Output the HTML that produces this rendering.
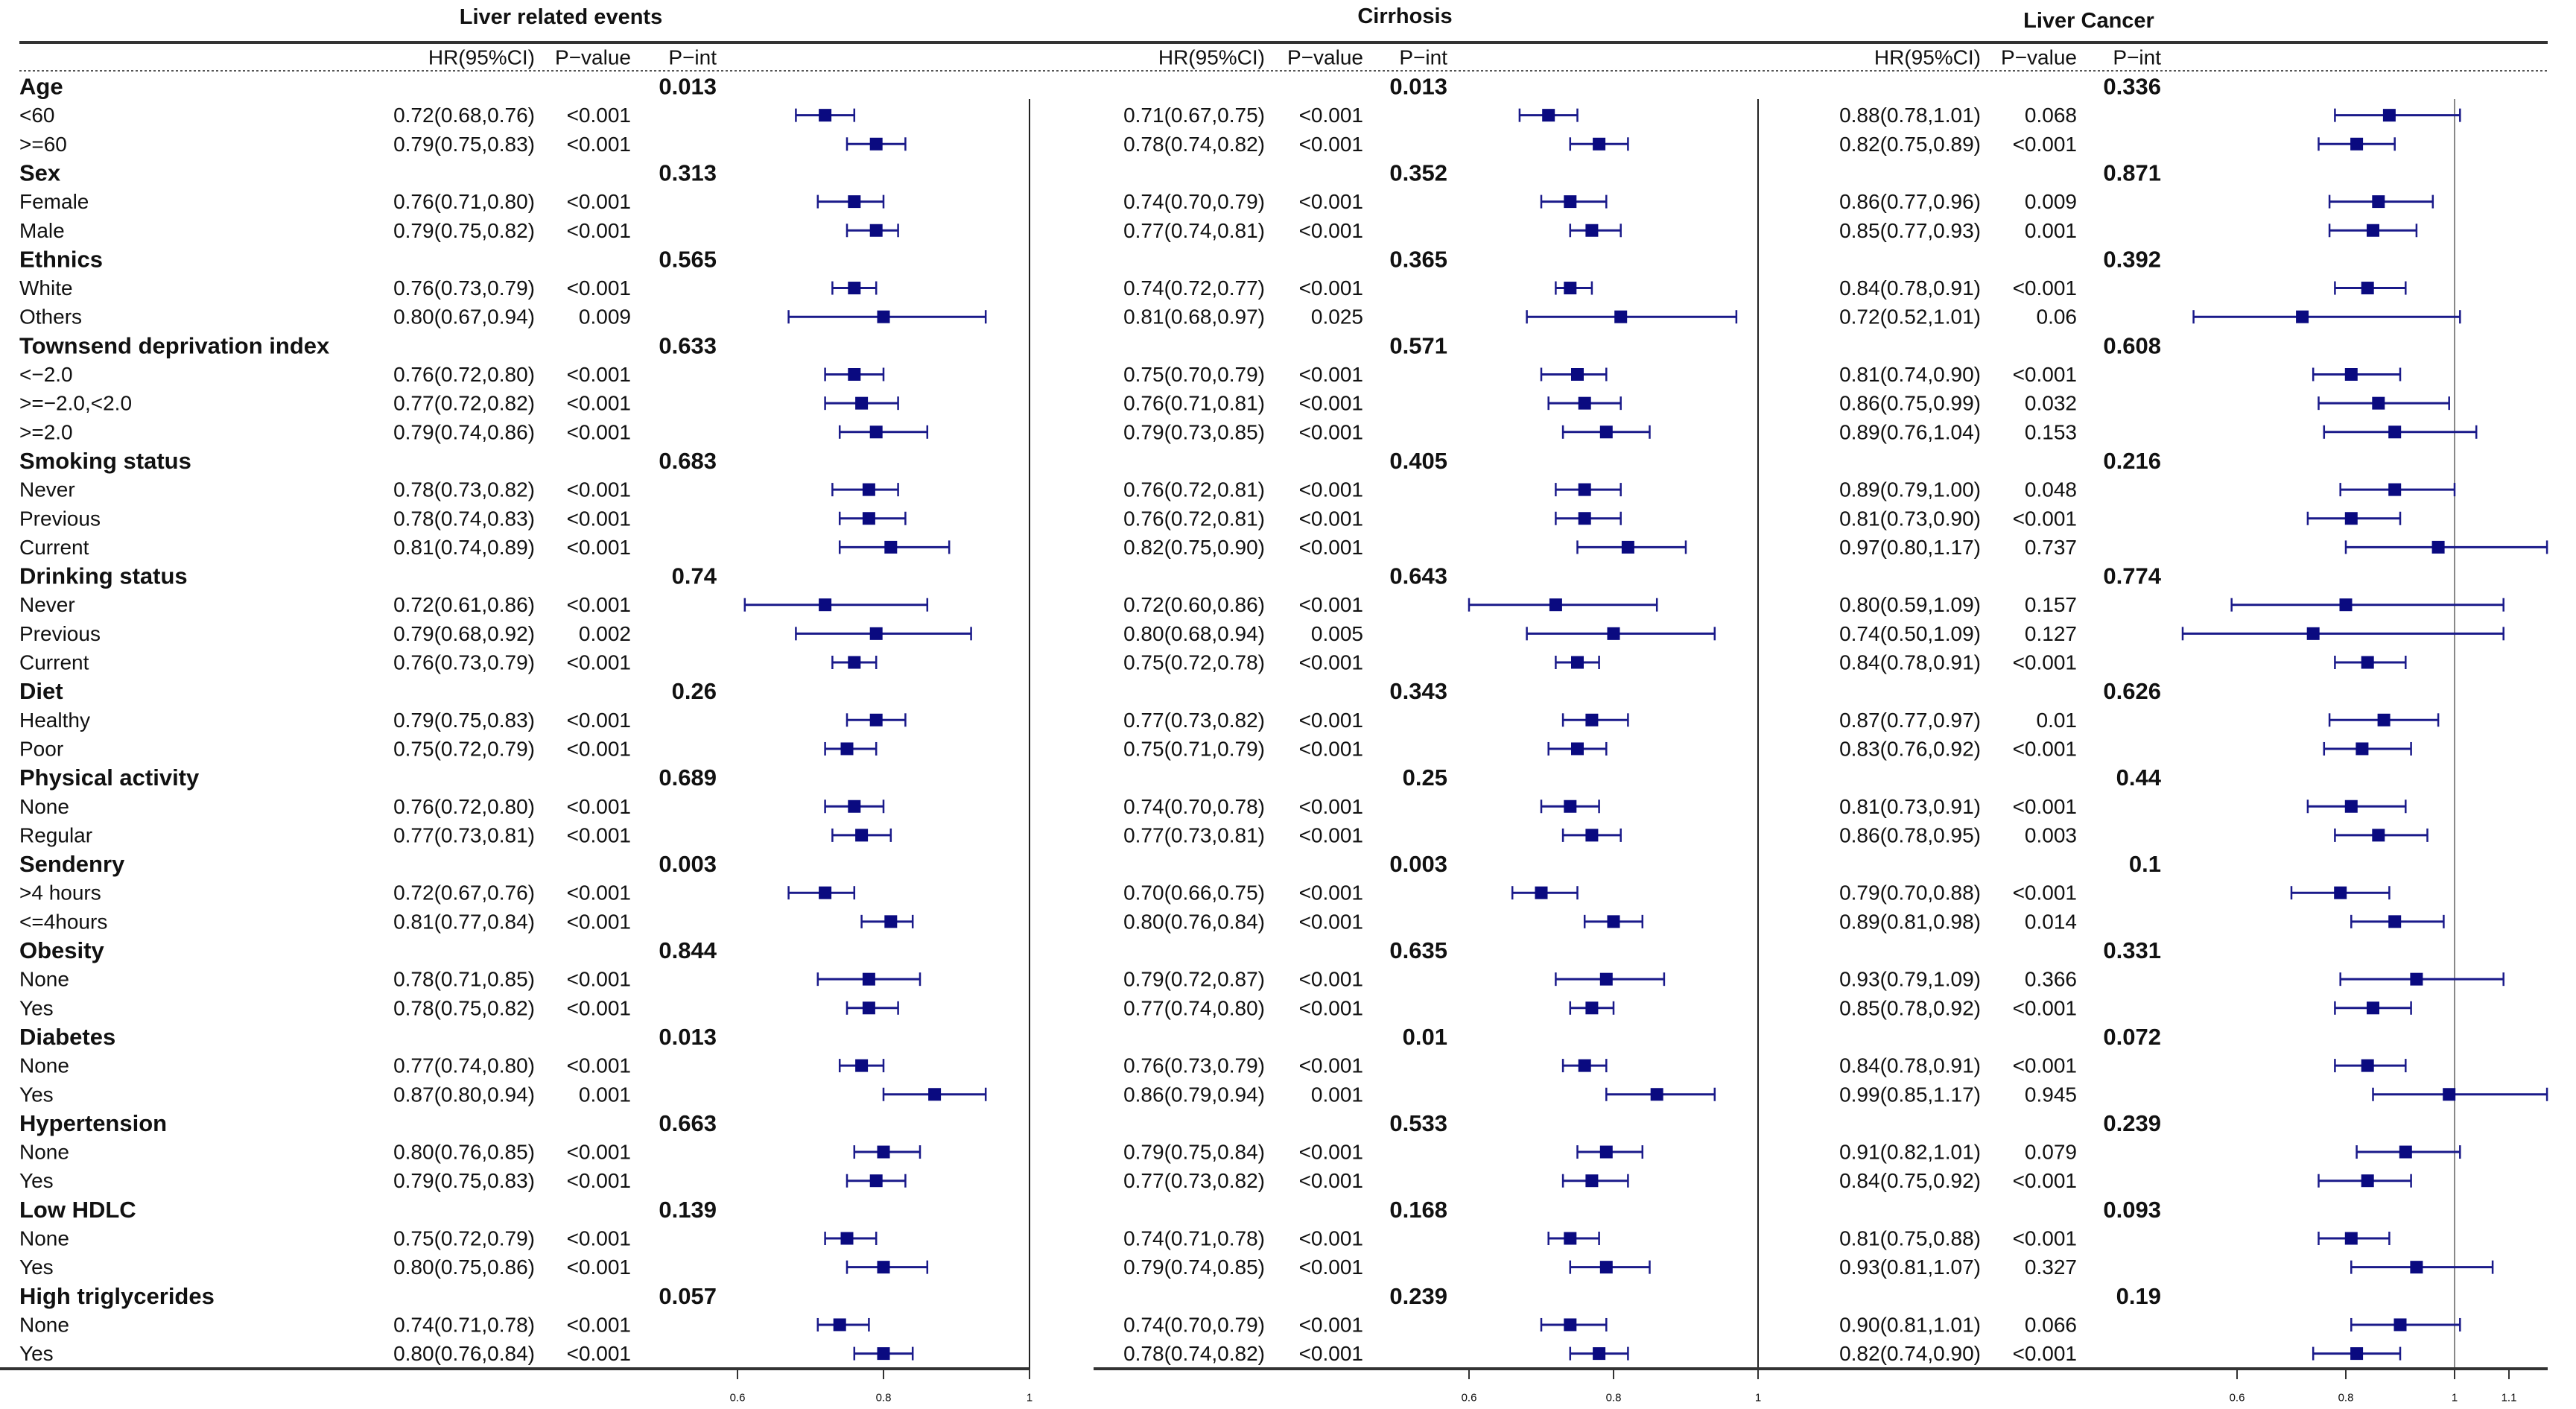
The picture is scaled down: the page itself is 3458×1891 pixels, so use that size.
<!DOCTYPE html>
<html><head><meta charset="utf-8"><style>
html,body{margin:0;padding:0;background:#fff}
svg{display:block}
text{font-family:"Liberation Sans",Arial,sans-serif;fill:#111}
</style></head><body>
<svg id="chart" width="3458" height="1891" viewBox="0 0 3458 1891" xmlns="http://www.w3.org/2000/svg">
<rect width="3458" height="1891" fill="#fff"/>
<g id="g"></g>
</svg>
<script>
// ---- data ----
const groups = ["Age","Sex","Ethnics","Townsend deprivation index","Smoking status","Drinking status","Diet","Physical activity","Sendenry","Obesity","Diabetes","Hypertension","Low HDLC","High triglycerides"];
const subgroups = [["<60",">=60"],["Female","Male"],["White","Others"],["<\u22122.0",">=\u22122.0,<2.0",">=2.0"],["Never","Previous","Current"],["Never","Previous","Current"],["Healthy","Poor"],["None","Regular"],[">4 hours","<=4hours"],["None","Yes"],["None","Yes"],["None","Yes"],["None","Yes"],["None","Yes"]];

const lreHR = [0.72,0.79,0.76,0.79,0.76,0.80,0.76,0.77,0.79,0.78,0.78,0.81,0.72,0.79,0.76,0.79,0.75,0.76,0.77,0.72,0.81,0.78,0.78,0.77,0.87,0.80,0.79,0.75,0.80,0.74,0.80];
const lreLo = [0.68,0.75,0.71,0.75,0.73,0.67,0.72,0.72,0.74,0.73,0.74,0.74,0.61,0.68,0.73,0.75,0.72,0.72,0.73,0.67,0.77,0.71,0.75,0.74,0.80,0.76,0.75,0.72,0.75,0.71,0.76];
const lreHi = [0.76,0.83,0.80,0.82,0.79,0.94,0.80,0.82,0.86,0.82,0.83,0.89,0.86,0.92,0.79,0.83,0.79,0.80,0.81,0.76,0.84,0.85,0.82,0.80,0.94,0.85,0.83,0.79,0.86,0.78,0.84];
const lreP = ["<0.001","<0.001","<0.001","<0.001","<0.001","0.009","<0.001","<0.001","<0.001","<0.001","<0.001","<0.001","<0.001","0.002","<0.001","<0.001","<0.001","<0.001","<0.001","<0.001","<0.001","<0.001","<0.001","<0.001","0.001","<0.001","<0.001","<0.001","<0.001","<0.001","<0.001"];
const lrePint = ["0.013","0.313","0.565","0.633","0.683","0.74","0.26","0.689","0.003","0.844","0.013","0.663","0.139","0.057"];

const cirHR = [0.71,0.78,0.74,0.77,0.74,0.81,0.75,0.76,0.79,0.76,0.76,0.82,0.72,0.80,0.75,0.77,0.75,0.74,0.77,0.70,0.80,0.79,0.77,0.76,0.86,0.79,0.77,0.74,0.79,0.74,0.78];
const cirLo = [0.67,0.74,0.70,0.74,0.72,0.68,0.70,0.71,0.73,0.72,0.72,0.75,0.60,0.68,0.72,0.73,0.71,0.70,0.73,0.66,0.76,0.72,0.74,0.73,0.79,0.75,0.73,0.71,0.74,0.70,0.74];
const cirHi = [0.75,0.82,0.79,0.81,0.77,0.97,0.79,0.81,0.85,0.81,0.81,0.90,0.86,0.94,0.78,0.82,0.79,0.78,0.81,0.75,0.84,0.87,0.80,0.79,0.94,0.84,0.82,0.78,0.85,0.79,0.82];
const cirP = ["<0.001","<0.001","<0.001","<0.001","<0.001","0.025","<0.001","<0.001","<0.001","<0.001","<0.001","<0.001","<0.001","0.005","<0.001","<0.001","<0.001","<0.001","<0.001","<0.001","<0.001","<0.001","<0.001","<0.001","0.001","<0.001","<0.001","<0.001","<0.001","<0.001","<0.001"];
const cirPint = ["0.013","0.352","0.365","0.571","0.405","0.643","0.343","0.25","0.003","0.635","0.01","0.533","0.168","0.239"];

const lcHR = [0.88,0.82,0.86,0.85,0.84,0.72,0.81,0.86,0.89,0.89,0.81,0.97,0.80,0.74,0.84,0.87,0.83,0.81,0.86,0.79,0.89,0.93,0.85,0.84,0.99,0.91,0.84,0.81,0.93,0.90,0.82];
const lcLo = [0.78,0.75,0.77,0.77,0.78,0.52,0.74,0.75,0.76,0.79,0.73,0.80,0.59,0.50,0.78,0.77,0.76,0.73,0.78,0.70,0.81,0.79,0.78,0.78,0.85,0.82,0.75,0.75,0.81,0.81,0.74];
const lcHi = [1.01,0.89,0.96,0.93,0.91,1.01,0.90,0.99,1.04,1.00,0.90,1.17,1.09,1.09,0.91,0.97,0.92,0.91,0.95,0.88,0.98,1.09,0.92,0.91,1.17,1.01,0.92,0.88,1.07,1.01,0.90];
const lcP = ["0.068","<0.001","0.009","0.001","<0.001","0.06","<0.001","0.032","0.153","0.048","<0.001","0.737","0.157","0.127","<0.001","0.01","<0.001","<0.001","0.003","<0.001","0.014","0.366","<0.001","<0.001","0.945","0.079","<0.001","<0.001","0.327","0.066","<0.001"];
const lcPint = ["0.336","0.871","0.392","0.608","0.216","0.774","0.626","0.44","0.1","0.331","0.072","0.239","0.093","0.19"];

const ticks1 = [0.6,0.8,1];
const ticks2 = [0.6,0.8,1];
const ticks3 = [0.6,0.8,1,1.1];

// ---- layout ----
const NS="http://www.w3.org/2000/svg";
const G=document.getElementById('g');
function mk(tag,attrs,parent){const e=document.createElementNS(NS,tag);for(const k in attrs)e.setAttribute(k,attrs[k]);(parent||G).appendChild(e);return e;}
function txt(s,x,y,anchor,size,bold,parent){const t=mk('text',{x:x,y:y,'text-anchor':anchor,'font-size':size,'font-weight':bold?'bold':'normal','dominant-baseline':'central'},parent);t.textContent=s;return t;}
const ROW0=116, ROWH=38.65;
const rowY=i=>ROW0+i*ROWH;
const AXY=1837;

const panels=[
 {name:"liver-related-events",title:"Liver related events",tx:753,ty:23,hrR:718,pR:847,piR:962,ref:1382,scale:980,hr:lreHR,lo:lreLo,hi:lreHi,p:lreP,pint:lrePint,ticks:ticks1,refColor:"#222",ax0:0,ax1:1382},
 {name:"cirrhosis",title:"Cirrhosis",tx:1886,ty:22,hrR:1698,pR:1830,piR:1943,ref:2360,scale:970,hr:cirHR,lo:cirLo,hi:cirHi,p:cirP,pint:cirPint,ticks:ticks2,refColor:"#222",ax0:1468,ax1:2427},
 {name:"liver-cancer",title:"Liver Cancer",tx:2804,ty:28,hrR:2659,pR:2788,piR:2901,ref:3295,scale:730,hr:lcHR,lo:lcLo,hi:lcHi,p:lcP,pint:lcPint,ticks:ticks3,refColor:"#888",ax0:2427,ax1:3420}
];

// top rule & dotted rule
let e;
e=mk('line',{x1:26,y1:57,x2:3420,y2:57,stroke:'#333','stroke-width':4});


e=mk('line',{x1:26,y1:95,x2:3420,y2:95,stroke:'#555','stroke-width':2,'stroke-dasharray':'3,3'});



// row labels
let r=0;
groups.forEach((g,gi)=>{
  const t=txt(g,26,rowY(r),'start',31,true);
  
  
  r++;
  subgroups[gi].forEach(s=>{
    const u=txt(s,26,rowY(r),'start',28,false);
    
    
    r++;
  });
});

panels.forEach(P=>{
  const pg=mk('g',{});
  
  
  const xs=v=>P.ref+(v-1)*P.scale;
  let t=txt(P.title,P.tx,P.ty,'middle',29,true,pg);
  
  
  t=txt('HR(95%CI)',P.hrR,77,'end',28,false,pg);
  
  
  t=txt('P\u2212value',P.pR,77,'end',28,false,pg);
  
  
  t=txt('P\u2212int',P.piR,77,'end',28,false,pg);
  
  
  // reference line
  const rl=mk('line',{x1:P.ref,y1:133,x2:P.ref,y2:AXY,stroke:P.refColor,'stroke-width':2},pg);
  
  
  // axis
  const ax=mk('line',{x1:P.ax0,y1:AXY,x2:P.ax1,y2:AXY,stroke:'#333','stroke-width':4},pg);
  
  
  P.ticks.forEach(v=>{
    const tk=mk('line',{x1:xs(v),y1:AXY,x2:xs(v),y2:AXY+14,stroke:'#333','stroke-width':2},pg);
    
    
    const tl=txt(String(v),xs(v),1876,'middle',15,false,pg);
    
    
  });
  let row=0, k=0;
  groups.forEach((g,gi)=>{
    const pi=txt(P.pint[gi],P.piR,rowY(row),'end',31,true,pg);
    
    
    row++;
    subgroups[gi].forEach(()=>{
      const y=rowY(row);
      const ht=txt(P.hr[k].toFixed(2)+'('+P.lo[k].toFixed(2)+','+P.hi[k].toFixed(2)+')',P.hrR,y,'end',28,false,pg);
      
      
      const pt=txt(P.p[k],P.pR,y,'end',28,false,pg);
      
      
      const ci=mk('line',{x1:xs(P.lo[k]),y1:y,x2:xs(P.hi[k]),y2:y,stroke:'#1a1a8a','stroke-width':3},pg);
      
      
      [P.lo[k],P.hi[k]].forEach(v=>{
        const c=mk('line',{x1:xs(v),y1:y-9,x2:xs(v),y2:y+9,stroke:'#1a1a8a','stroke-width':2.5},pg);
        
        
      });
      const sq=mk('rect',{x:xs(P.hr[k])-8.5,y:y-8.5,width:17,height:17,fill:'#0a0a80'},pg);
      
      
      row++; k++;
    });
  });
});
</script>
</body></html>
